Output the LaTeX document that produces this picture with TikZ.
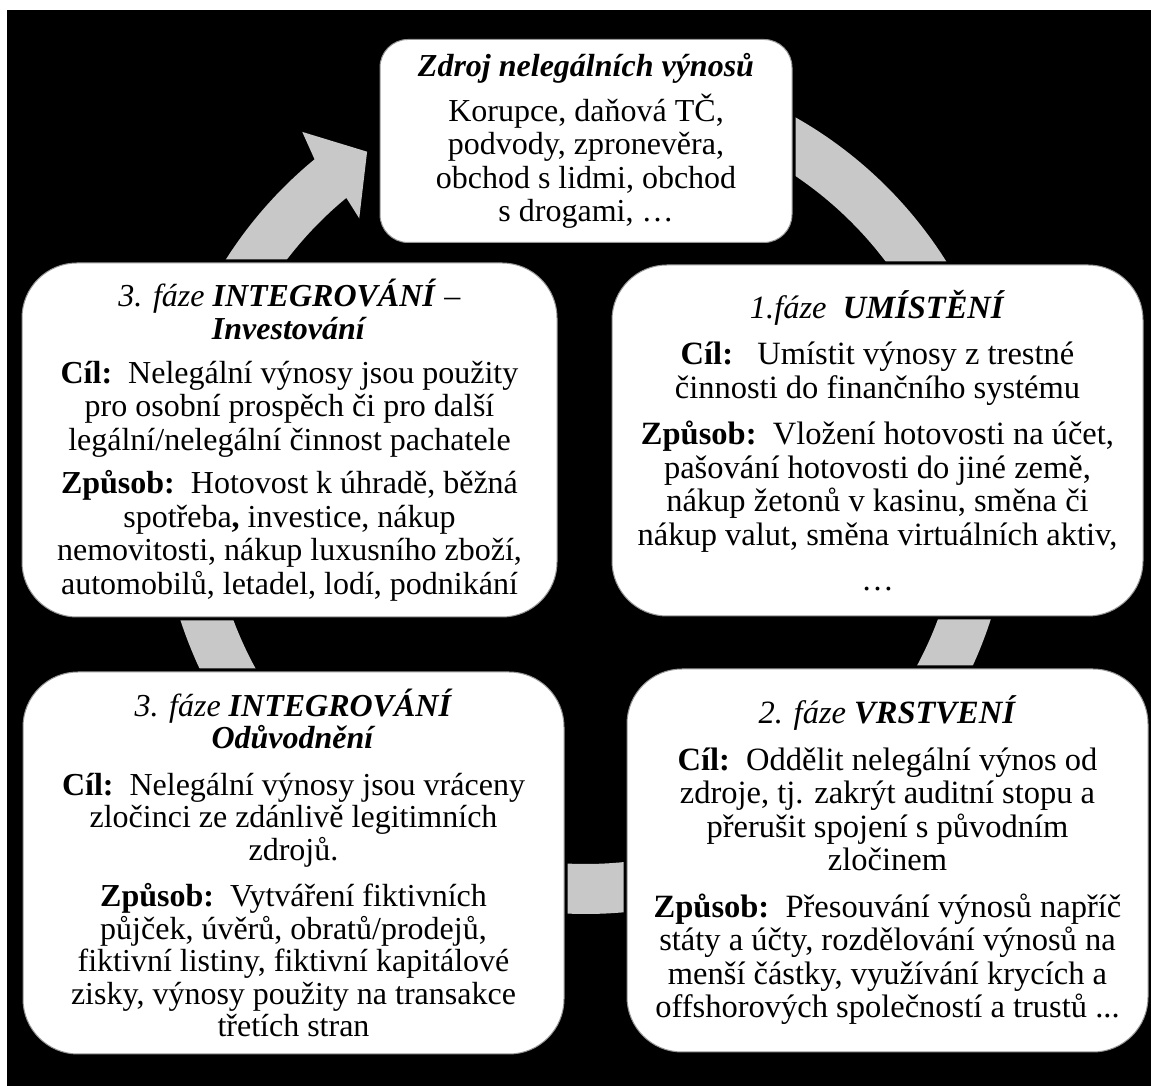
\documentclass[tikz,border=0pt]{standalone}
\usepackage{fontspec}
\setmainfont{Liberation Serif}
\usetikzlibrary{calc}

\definecolor{ringfill}{RGB}{200,200,200}
\definecolor{boxline}{RGB}{150,150,150}

\tikzset{
  phasebox/.style={
    rectangle, rounded corners=55pt, fill=white, draw=boxline, line width=1pt,
    align=center, inner sep=0pt,
    font=\fontsize{32.5}{33.5}\selectfont,
    preaction={draw=black, line width=7pt}
  },
  srcbox/.style={phasebox, rounded corners=28pt, font=\fontsize{32}{33.5}\selectfont}
}

\newcommand{\hd}[1]{\textbf{\textit{#1}}}

\begin{document}
\begin{tikzpicture}[x=1pt, y=1pt]
  \useasboundingbox (0,0) rectangle (1151,1086);
  \fill[white] (0,0) rectangle (1151,1086);
  \fill[black] (7,0) rectangle (1151,1076);

  % centre of the cycle ring
  \coordinate (C) at (585.5,598);

  % grey ring running clockwise, ending in an arrow head at the source box
  \fill[ringfill]
    ($(C)+(129.5:426)$) arc[start angle=129.5, end angle=450, radius=426]
    -- ($(C)+(450:376)$) arc[start angle=450, end angle=129.5, radius=376]
    -- ($(C)+(130:352)$) -- ($(C)+(123:401)$) -- ($(C)+(128.5:455)$) -- cycle;

  % source of illegal proceeds
  \node[srcbox, minimum width=412pt, minimum height=203pt] (src) at (586,945)
    {\hd{Zdroj nelegálních výnosů}\\[9pt]
     Korupce, daňová TČ,\\
     podvody, zpronevěra,\\
     obchod s lidmi, obchod\\
     s drogami, …};

  % phase 1: placement
  \node[phasebox, minimum width=531pt, minimum height=351pt] (umi) at (877.5,645.5)
    {\textit{1.fáze}\enspace\hd{UMÍSTĚNÍ}\\[13pt]
     \textbf{Cíl:}\enspace\ Umístit výnosy z trestné\\
     činnosti do finančního systému\\[13pt]
     \textbf{Způsob:}\enspace Vložení hotovosti na účet,\\
     pašování hotovosti do jiné země,\\
     nákup žetonů v kasinu, směna či\\
     nákup valut, směna virtuálních aktiv,\\[12pt]
     …};

  % phase 2: layering
  \node[phasebox, minimum width=521pt, minimum height=383pt] (vrs) at (887.5,225.5)
    {\textit{2. fáze} \hd{VRSTVENÍ}\\[13pt]
     \textbf{Cíl:}\enspace Oddělit nelegální výnos od\\
     zdroje, tj. zakrýt auditní stopu a\\
     přerušit spojení s původním\\
     zločinem\\[13pt]
     \textbf{Způsob:}\enspace Přesouvání výnosů napříč\\
     státy a účty, rozdělování výnosů na\\
     menší částky, využívání krycích a\\
     offshorových společností a trustů ...};

  % phase 3: integration, justification
  \node[phasebox, minimum width=541pt, minimum height=382pt,
        font=\fontsize{32}{32.5}\selectfont] (odu) at (293.5,223)
    {\textit{3. fáze} \hd{INTEGROVÁNÍ}\\
     \hd{Odůvodnění}\\[14pt]
     \textbf{Cíl:}\enspace Nelegální výnosy jsou vráceny\\
     zločinci ze zdánlivě legitimních\\
     zdrojů.\\[14pt]
     \textbf{Způsob:}\enspace Vytváření fiktivních\\
     půjček, úvěrů, obratů/prodejů,\\
     fiktivní listiny, fiktivní kapitálové\\
     zisky, výnosy použity na transakce\\
     třetích stran};

  % phase 3: integration, investing
  \node[phasebox, minimum width=535pt, minimum height=354pt,
        font=\fontsize{32}{33.5}\selectfont] (inv) at (289.5,646)
    {\textit{3. fáze} \hd{INTEGROVÁNÍ} \textit{–}\\
     \hd{Investování}\\[10pt]
     \textbf{Cíl:}\enspace Nelegální výnosy jsou použity\\
     pro osobní prospěch či pro další\\
     legální/nelegální činnost pachatele\\[10pt]
     \textbf{Způsob:}\enspace Hotovost k úhradě, běžná\\
     spotřeba\textbf{,} investice, nákup\\
     nemovitosti, nákup luxusního zboží,\\
     automobilů, letadel, lodí, podnikání};
\end{tikzpicture}
\end{document}
